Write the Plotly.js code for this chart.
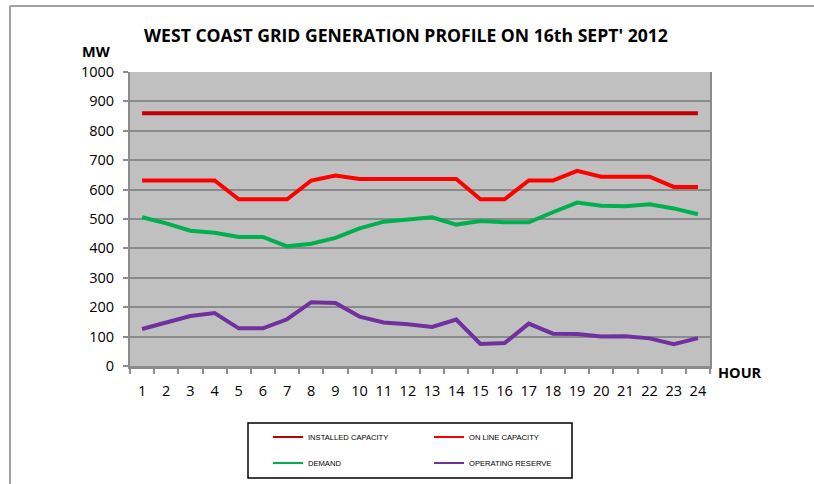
<!DOCTYPE html>
<html>
<head>
<meta charset="utf-8">
<script src="https://cdn.plot.ly/plotly-3.0.1.min.js"></script>
<style>html,body{margin:0;padding:0;background:#fff;}#chart{width:814px;height:484px;}</style>
</head>
<body>
<div id="chart"></div>
<script>
const hours = ["1","2","3","4","5","6","7","8","9","10","11","12","13","14","15","16","17","18","19","20","21","22","23","24"];
const installedCapacity = [860,860,860,860,860,860,860,860,860,860,860,860,860,860,860,860,860,860,860,860,860,860,860,860];
const onlineCapacity = [631,631,631,631,567,567,567,631,648,636,636,636,636,636,567,567,631,631,664,644,644,644,609,609];
const demand = [506,485,460,453,439,439,407,416,436,468,491,497,506,481,493,489,489,523,556,545,543,550,536,516];
const operatingReserve = [126,147,170,180,128,128,159,217,214,168,148,142,133,158,75,78,144,110,109,100,101,94,74,95];
const yTicks = [0,100,200,300,400,500,600,700,800,900,1000];

const FONT = "Open Sans, sans-serif";

const traces = [
  {x: hours, y: installedCapacity, name: "INSTALLED CAPACITY", type: "scatter", mode: "lines",
   line: {color: "#C00000", width: 4}, legend: "legend"},
  {x: hours, y: onlineCapacity, name: "ON LINE CAPACITY", type: "scatter", mode: "lines",
   line: {color: "#FF0000", width: 4}, legend: "legend"},
  {x: hours, y: demand, name: "DEMAND", type: "scatter", mode: "lines",
   line: {color: "#00B050", width: 4}, legend: "legend2"},
  {x: hours, y: operatingReserve, name: "OPERATING RESERVE", type: "scatter", mode: "lines",
   line: {color: "#7030A0", width: 4}, legend: "legend2"}
];

const legendCommon = {
  orientation: "h", xanchor: "left", yanchor: "middle",
  bgcolor: "rgba(0,0,0,0)", borderwidth: 0,
  font: {family: "Liberation Sans, sans-serif", size: 7.6, color: "#000"},
  entrywidth: 116, entrywidthmode: "pixels", itemwidth: 30
};

const layout = {
  width: 814, height: 484,
  paper_bgcolor: "#FFFFFF",
  plot_bgcolor: "#C0C0C0",
  margin: {l: 130, r: 104, t: 72, b: 118, autoexpand: false},
  font: {family: FONT, color: "#000"},
  title: {
    text: "<b>WEST COAST GRID GENERATION PROFILE ON 16th SEPT' 2012</b>",
    font: {family: FONT, size: 17.6, color: "#000"},
    x: 406/814, xref: "container", xanchor: "center",
    y: 1 - 36/484, yref: "container", yanchor: "middle"
  },
  xaxis: {
    type: "category", range: [-0.5, 23.5],
    tickvals: hours, ticktext: hours, tickangle: 0,
    tickson: "boundaries", ticks: "outside", ticklen: 5, tickwidth: 2, tickcolor: "#8C8C8C",
    showline: true, linecolor: "#8C8C8C", linewidth: 3,
    showgrid: false, zeroline: false,
    tickfont: {family: FONT, size: 14.5, color: "#000"},
    ticklabelstandoff: 10
  },
  yaxis: {
    range: [0, 1000], tickvals: yTicks,
    ticks: "outside", ticklen: 5, tickwidth: 2, tickcolor: "#8C8C8C",
    showline: true, linecolor: "#8C8C8C", linewidth: 2, mirror: true,
    showgrid: true, gridcolor: "#8A8A8A", gridwidth: 2,
    zeroline: false,
    tickfont: {family: FONT, size: 14.5, color: "#000"},
    ticklabelstandoff: 6
  },
  showlegend: true,
  legend: Object.assign({x: (268-130)/580, y: (366-437)/294}, legendCommon),
  legend2: Object.assign({x: (268-130)/580, y: (366-463)/294}, legendCommon),
  annotations: [
    {text: "<b>MW</b>", xref: "paper", yref: "paper", x: (96-130)/580, y: (366-52)/294,
     xanchor: "center", yanchor: "middle", showarrow: false,
     font: {family: FONT, size: 14.5, color: "#000"}},
    {text: "<b>HOUR</b>", xref: "paper", yref: "paper", x: (716-130)/580, y: (366-372)/294,
     xanchor: "left", yanchor: "middle", showarrow: false,
     font: {family: FONT, size: 14.5, color: "#000"}}
  ],
  shapes: [
    {type: "rect", xref: "paper", yref: "paper",
     x0: (248-130)/580, x1: (572-130)/580, y0: (366-478)/294, y1: (366-423)/294,
     line: {color: "#000", width: 1.5}, fillcolor: "rgba(0,0,0,0)", layer: "above"},
    {type: "line", xref: "paper", yref: "paper",
     x0: (10-130)/580, x1: (814-130)/580, y0: (366-6)/294, y1: (366-6)/294,
     line: {color: "#A0A0A0", width: 2}},
    {type: "line", xref: "paper", yref: "paper",
     x0: (10-130)/580, x1: (10-130)/580, y0: (366-6)/294, y1: (366-490)/294,
     line: {color: "#A0A0A0", width: 2}}
  ]
};

Plotly.newPlot("chart", traces, layout, {displayModeBar: false, staticPlot: true}).then(function (gd) {
  gd.querySelectorAll(".legendlines path").forEach(function (p) {
    p.style.strokeWidth = "2px";
  });
});
</script>
</body>
</html>
